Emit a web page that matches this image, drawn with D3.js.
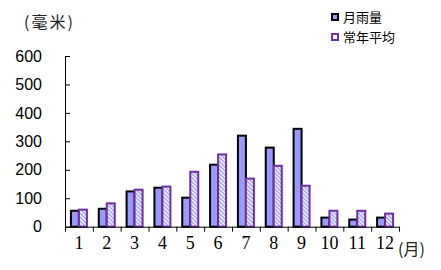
<!DOCTYPE html>
<meta charset="utf-8">
<style>
  body { margin: 0; background: #fff; }
  .cn { font-family: "Noto Sans CJK SC", sans-serif; }
  .xl text { font-family: "Liberation Serif", serif; }
</style>
<svg width="441" height="270"></svg>
<script src="https://cdn.jsdelivr.net/npm/d3@7"></script>
<script>
// ---- data ----
const months = ["1","2","3","4","5","6","7","8","9","10","11","12"]
const rainfall = [56, 63, 124, 137, 102, 218, 320, 278, 344, 32, 25, 32]
const normal = [60, 82, 130, 141, 193, 254, 169, 214, 144, 56, 56, 46]
const yTicks = [0, 100, 200, 300, 400, 500, 600]
const seriesNames = ["月雨量", "常年平均"]

const svg = d3.select("svg")

// hatch for the normal-year bars
svg.append("defs").append("pattern")
    .attr("id", "hatch")
    .attr("patternUnits", "userSpaceOnUse")
    .attr("width", 4).attr("height", 4)
  .call(p => {
    p.append("rect").attr("width", 4).attr("height", 4).attr("fill", "#fff")
    p.append("path").attr("d", "M-1,-1 L5,5 M-1,3 L1,5 M3,-1 L5,1")
      .attr("stroke", "#9999ff").attr("stroke-width", 1.4)
  })

const x = d3.scaleBand().domain(months).range([65, 399])
const xb = d3.scaleLinear().domain([0, 12]).range([65, 399])
const y = d3.scaleLinear().domain([0, 600]).range([226.7, 56])
const bw = 8

// y axis, ticks pointing inward
svg.append("g")
    .attr("transform", "translate(65,0)")
    .call(d3.axisLeft(y).tickValues(yTicks).tickSizeInner(-5).tickSizeOuter(0).tickPadding(23))
    .call(g => g.selectAll("text").attr("font-family", "Liberation Sans, Arial").attr("font-size", 16).attr("fill", "#000"))
    .call(g => g.selectAll("line,path").attr("stroke", "#000"))

// bars
const grp = svg.append("g").selectAll("g").data(months).join("g")
    .attr("transform", d => `translate(${x(d) + x.bandwidth() / 2},0)`)

grp.append("rect")
    .attr("x", -bw)
    .attr("y", (d, i) => y(rainfall[i]))
    .attr("width", bw)
    .attr("height", (d, i) => y(0) - y(rainfall[i]))
    .attr("fill", "#9999ff").attr("stroke", "#000").attr("stroke-width", 2)

grp.append("rect")
    .attr("x", 0)
    .attr("y", (d, i) => y(normal[i]))
    .attr("width", bw)
    .attr("height", (d, i) => y(0) - y(normal[i]))
    .attr("fill", "url(#hatch)").attr("stroke", "#7030a0").attr("stroke-width", 2)

// x axis: boundary ticks
svg.append("g")
    .attr("transform", `translate(0,${y(0)})`)
    .call(d3.axisBottom(xb).tickValues(d3.range(13)).tickSizeInner(5).tickSizeOuter(0).tickFormat(""))
    .call(g => g.selectAll("line,path").attr("stroke", "#000"))

// x labels
svg.append("g").attr("class", "xl")
    .attr("transform", `translate(0,${y(0)})`)
    .call(d3.axisBottom(x).tickSize(0).tickPadding(10))
    .call(g => g.select(".domain").remove())
    .call(g => g.selectAll("text").attr("font-size", 18).attr("fill", "#000"))

svg.append("text").attr("class", "cn")
    .attr("x", 398).attr("y", 255).attr("font-size", 16).attr("fill", "#222").text("(月)")
svg.append("text").attr("class", "cn")
    .attr("x", 24).attr("y", 28).attr("font-size", 16).attr("letter-spacing", 2).attr("fill", "#222").text("(毫米)")

// legend
const leg = svg.append("g").selectAll("g").data(seriesNames).join("g")
    .attr("transform", (d, i) => `translate(332,${14 + i * 20})`)
leg.append("rect").attr("width", 6).attr("height", 6)
    .attr("fill", (d, i) => i ? "#fff" : "#9999ff")
    .attr("stroke", (d, i) => i ? "#7030a0" : "#000").attr("stroke-width", 2)
leg.append("text").attr("class", "cn")
    .attr("x", 11).attr("y", 8).attr("font-size", 13).text(d => d)
</script>
